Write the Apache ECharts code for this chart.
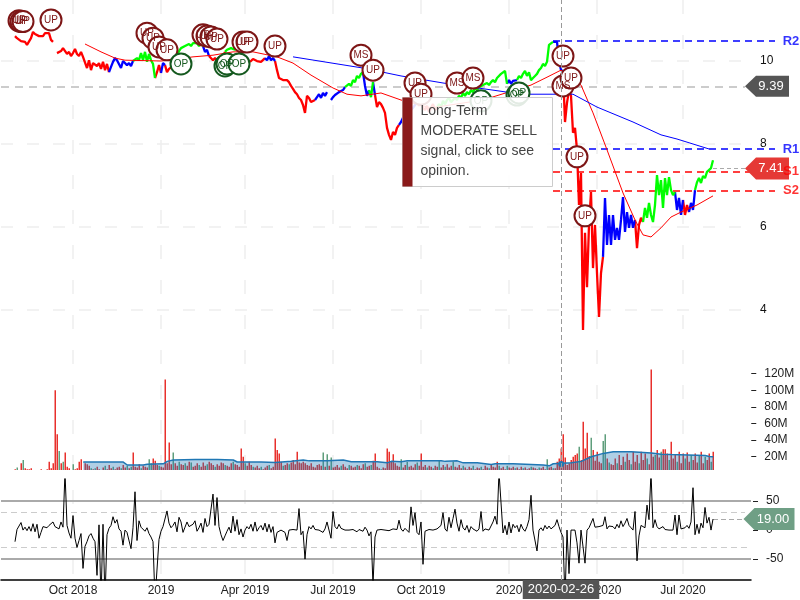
<!DOCTYPE html>
<html>
<head>
<meta charset="utf-8">
<title>Chart</title>
<script src="https://cdn.jsdelivr.net/npm/echarts@6/dist/echarts.min.js"></script>
<style>
  html, body { margin: 0; padding: 0; background: #fff; }
  #chart { width: 800px; height: 600px; }
</style>
</head>
<body>
<div id="chart"></div>
<script>
// every slot on the time axis is about two calendar days, series start at slot 7
const firstSlot = 7
const tickSlots = [36, 80, 122, 166, 210, 254, 298, 341]
const tickLabels = ['Oct 2018', '2019', 'Apr 2019', 'Jul 2019', 'Oct 2019', '2020', 'Apr 2020', 'Jul 2020']
const crossSlot = 280
const crossDate = '2020-02-26'

const prices = [
  10.60, 10.55, 10.55, 10.48, 10.50, 10.46, 10.39, 10.43, 10.55, 10.70,
  10.65, 10.67, 10.60, 10.63, 10.60, 10.67, 10.65, 10.67, 10.51, 10.46,
  null, 10.19, 10.22, 10.24, 10.31, 10.27, 10.17, 10.22, 10.12, 10.19, 10.29,
  10.17, 10.12, 10.22, 10.10, 10.10, 9.83, 10.02, 9.78, 9.95, 9.98,
  9.88, 9.95, 9.81, 9.98, 9.78, 9.93, 9.73, 9.86, 9.98, 10.07,
  10.02, 9.98, 9.83, 10.00, 9.98, 9.90, 9.95, 9.88, 10.00, 10.02,
  10.07, 10.02, 10.19, 10.02, 10.22, 9.98, 10.17, 10.02, 9.93, 9.59,
  9.73, 9.90, 9.71, 9.95, 9.90, 9.73, 9.81, 9.78, 9.88, 10.02,
  10.12, 10.24, 10.31, 10.27, 10.36, 10.34, 10.41, 10.36, 10.43, 10.39,
  10.43, 10.36, 10.41, 10.36, 10.22, 10.27, 10.12, 10.10, 10.02, 10.07,
  10.02, 10.10, 10.02, 10.12, 10.22, 10.27, 10.24, 10.31, 10.34, 10.27,
  10.36, 10.22, 10.12, 10.02, 10.07, 9.98, 10.02, 10.00, 10.05, 10.02,
  10.00, 10.02, 9.98, 10.02, 10.07, 10.02, 10.12, 10.02, 10.07, 10.00,
  9.78, 9.59, 9.61, 9.54, 9.57, 9.54, 9.49, 9.40, 9.33, 9.25,
  9.20, 9.11, 9.06, 8.94, 8.75, 9.16, 9.11, 9.01, 8.99, 9.06,
  9.13, 9.20, 9.11, 9.23, 9.16, 9.25, null, 9.06, 9.13, 9.18,
  9.16, 9.25, 9.23, 9.30, 9.37, 9.35, 9.45, 9.40, 9.54, 9.49,
  9.64, 9.59, 9.69, 9.73, 9.40, 9.16, 9.30, 9.13, 9.49, 9.18,
  8.89, 9.01, 8.96, 8.87, 8.75, 8.39, 8.22, 8.10, 8.29, 8.22,
  8.39, 8.46, 8.53, 8.63, 8.51, 8.70, 8.67, 8.82, 8.87, 8.94,
  9.01, 8.92, 9.06, 8.87, 8.82, 8.92, 8.77, 8.87, 8.96, 8.82,
  8.87, 8.96, 8.89, 9.04, 8.96, 9.06, 9.11, 9.01, 9.06, 9.11,
  9.06, 9.16, 9.11, 9.23, 9.16, 9.25, 9.20, 9.30, 9.25, 9.35,
  9.30, 9.37, 9.35, 9.42, 9.40, 9.47, 9.42, 9.49, 9.54, 9.49,
  9.59, 9.57, 9.69, 9.66, 9.76, 9.45, 9.54, 9.45, 9.52, 9.54,
  9.54, 9.64, 9.59, 9.69, 9.76, 9.64, 9.73, 9.54, 9.59, 9.64,
  9.69, 9.78, 9.83, 9.93, 9.88, 9.98, 10.39, 10.36, 10.46, 10.43,
  10.46, 10.02, 9.78, 9.76, 8.53, 8.99, 9.30, 9.16, 8.27, 8.39,
  7.86, 6.53, 7.30, 3.52, 5.86, 4.55, 6.05, 6.84, 5.01, 6.05,
  4.89, 3.83, 4.89, 5.28, 6.70, 5.57, 6.29, 5.57, 6.29, 5.69,
  5.98, 5.69, 6.17, 6.72, 5.88, 6.36, 5.98, 6.29, 5.98, 6.17,
  5.49, 6.05, 6.22, 6.12, 6.46, 6.22, 6.58, 6.29, 6.12, 6.53,
  7.25, 6.77, 7.13, 6.46, 7.18, 6.77, 7.20, 6.89, 6.77, 6.84,
  6.41, 6.70, 6.29, 6.65, 6.29, 6.53, 6.36, 6.58, 6.41, 6.89,
  7.08, 7.18, 7.06, 7.23, 7.18, 7.33, 7.37, 7.42, 7.61
]
// [last slot of the run, colour key]
const trendRuns = [
  [53, 'r'], [65, 'b'], [76, 'g'], [79, 'r'], [81, 'b'], [87, 'r'], [100, 'g'], [103, 'b'],
  [111, 'r'], [118, 'g'], [131, 'r'], [136, 'b'], [156, 'r'], [171, 'b'], [180, 'g'], [183, 'b'],
  [185, 'g'], [186, 'b'], [198, 'r'], [207, 'b'], [217, 'r'], [252, 'g'], [257, 'b'], [275, 'g'],
  [280, 'b'], [300, 'r'], [316, 'b'], [320, 'r'], [336, 'g'], [340, 'b'], [343, 'r'], [346, 'b'],
  [356, 'g']
]
const maShort = [
  [42, 10.41], [50, 10.22], [57, 10.07], [62, 10.02], [80, 10.00], [96, 10.10], [106, 10.14],
  [116, 10.22], [126, 10.22], [138, 10.10], [146, 9.95], [155, 9.66], [166, 9.35], [173, 9.20],
  [180, 9.16], [190, 9.23], [200, 9.06], [215, 8.87], [241, 9.06], [265, 9.42], [273, 9.61],
  [280, 9.78], [285, 9.61], [290, 9.42], [296, 8.75], [303, 7.86], [311, 6.82], [317, 6.17],
  [321, 5.81], [325, 5.76], [330, 5.98], [335, 6.24], [340, 6.36], [348, 6.53], [356, 6.75]
]
const maLong = [
  [146, 10.10], [181, 9.83], [200, 9.64], [221, 9.47], [253, 9.25], [265, 9.20], [286, 9.20],
  [298, 8.89], [316, 8.53], [330, 8.22], [338, 8.12], [354, 7.88]
]

const levelNames = ['R2', 'R1', 'S1', 'S2']
const levelValues = [10.48, 7.88, 7.33, 6.87]
const levelColors = ['#0000ff', '#0000ff', '#ff0000', '#ff0000']
const priceTicks = [4, 6, 8, 10]
const crossPrice = 9.39
const lastPrice = 7.41

const upMarks = [
  [9, 10.97], [10, 10.95], [11, 10.95], [25, 10.99], [73, 10.67], [76, 10.55], [79, 10.34], [83, 10.27],
  [101, 10.63], [103, 10.60], [105, 10.58], [108, 10.53], [121, 10.46], [123, 10.46], [137, 10.36],
  [186, 9.78], [207, 9.47], [210, 9.20], [281, 10.12], [285, 9.59], [288, 7.69], [292, 6.27]
]
const msMarks = [[180, 10.14], [228, 9.47], [236, 9.59], [281, 9.40]]
const opMarks = [[90, 9.93], [112, 9.88], [113, 9.93], [119, 9.93], [240, 9.04], [258, 9.18], [259, 9.23]]

// volume in millions
const volumes = [
  5, 7, 4, 12, 16, 6, 5, 5, 6, 4,
  3, 3, 3, 5, 4, 3, 5, 14, 6, 12,
  100, 47, 27, 12, 14, 25, 8, 6, 4, 11,
  5, 6, 14, 17, 4, 12, 11, 9, 6, 5,
  6, 8, 5, 4, 7, 9, 5, 10, 6, 8,
  5, 7, 8, 6, 10, 7, 9, 6, 8, 25,
  8, 7, 11, 6, 9, 8, 7, 17, 12, 18,
  15, 10, 9, 8, 7, 113, 12, 37, 11, 25,
  12, 9, 14, 11, 10, 12, 9, 14, 13, 8,
  9, 12, 10, 8, 13, 9, 11, 14, 12, 10,
  8, 11, 9, 13, 12, 10, 9, 8, 12, 14,
  11, 10, 8, 30, 20, 12, 9, 14, 10, 8,
  7, 9, 6, 8, 5, 7, 9, 10, 6, 8,
  42, 28, 24, 14, 9, 10, 12, 11, 13, 16,
  11, 26, 13, 12, 14, 12, 10, 9, 12, 8,
  7, 10, 11, 9, 25, 8, 23, 9, 19, 7,
  8, 10, 7, 9, 11, 8, 6, 10, 9, 7,
  8, 10, 9, 6, 11, 12, 8, 9, 10, 15,
  24, 8, 6, 5, 7, 6, 30, 26, 14, 23,
  12, 9, 8, 17, 7, 10, 14, 8, 9, 7,
  11, 13, 9, 24, 8, 10, 7, 9, 8, 6,
  9, 8, 16, 7, 10, 8, 11, 7, 9, 14,
  8, 7, 10, 6, 9, 7, 5, 8, 6, 9,
  5, 7, 6, 8, 5, 9, 7, 6, 10, 8,
  7, 14, 9, 6, 8, 5, 9, 7, 6, 8,
  6, 7, 5, 8, 6, 7, 5, 6, 8, 7,
  6, 5, 7, 6, 8, 5, 17, 7, 8, 6,
  6, 14, 18, 30, 47, 19, 10, 12, 16, 20,
  22, 24, 32, 16, 62, 30, 49, 21, 43, 28,
  15, 26, 14, 12, 39, 47, 18, 13, 11, 10,
  18, 12, 22, 10, 20, 14, 24, 16, 11, 26,
  14, 22, 12, 26, 16, 24, 18, 11, 125, 20,
  22, 28, 19, 26, 29, 29, 24, 16, 38, 18,
  22, 14, 26, 12, 24, 18, 25, 14, 22, 16,
  24, 13, 22, 26, 12, 20, 16, 24, 14, 26
]
const greenVolumeSlots = [
  8, 11, 19, 29, 31, 36, 45, 47, 50, 52, 56, 60, 63, 65, 70, 74, 75, 79, 86, 89, 92, 95, 99, 103, 107,
  112, 116, 122, 126, 130, 134, 141, 144, 161, 163, 165, 170, 174, 178, 182, 185, 190, 200, 203, 208,
  213, 216, 219, 222, 226, 231, 236, 240, 244, 249, 253, 257, 261, 265, 269, 273, 276, 289, 295, 301,
  302, 304, 308, 312, 315, 319, 323, 327, 330, 334, 338, 342, 345, 349, 352, 355
]
const volumeAverage = [
  [41, 13.6], [61, 13.6], [63, 10], [71, 10], [73, 11], [81, 11.5], [83, 14.4], [86, 16], [97, 16.5],
  [108, 16.5], [109, 16], [116, 16], [118, 13.6], [130, 13.6], [131, 12.6], [137, 13], [145, 14.4],
  [151, 16], [154, 15], [163, 15], [164, 16], [171, 16], [175, 14], [188, 14], [189, 12.6], [193, 12.6],
  [195, 14.4], [200, 14], [203, 15.2], [220, 15.2], [222, 14.4], [228, 15], [231, 12.6], [238, 12.6],
  [245, 10.6], [247, 11.5], [256, 11.5], [257, 10], [271, 10], [274, 9], [276, 11.5], [285, 12.6],
  [290, 14.4], [295, 20], [301, 24], [306, 26], [315, 26], [316, 25], [325, 24.5], [326, 25], [330, 23],
  [335, 22.6], [336, 21.5], [352, 21.5], [354, 20.3], [356, 20]
]
const volumeTicks = [20, 40, 60, 80, 100, 120]

const oscillator = [
  -20, 1, 2, 13, 0, 5, -1, 6, -2, 11,
  -3, 10, -14, -4, 6, 9, 4, 8, 6, 14,
  6, 7, 2, 14, 5, 100, 8, -5, -14, 25,
  -14, -30, -18, -6, -66, -28, -20, -10, -6, -14,
  -20, -78, 9, -120, 10, -120, -8, 3, 8, 23,
  12, 18, 2, -2, -26, 0, -4, -1, -32, 4,
  66, -18, 16, 5, 6, -2, 4, -6, -12, -20,
  -120, -120, -16, -2, 6, 8, 33, 12, 4, 8,
  14, -3, 22, 14, -4, 5, 14, 6, 4, 10,
  16, -2, 4, 12, -4, 20, 6, 10, 12, 62,
  8, 56, 6, -8, -18, -10, -2, 5, -5, 24,
  -2, 18, -8, 2, -12, 0, 6, 2, 10, -2,
  14, -2, 4, 8, 0, 12, -3, 10, -4, 6,
  -22, -4, -6, 0, -2, -4, -18, 0, 2, 1,
  1, 0, 37, -8, -2, -50, -8, 6, 2, 8,
  1, 4, 0, 2, -4, 2, 14, 13, -14, 32,
  6, 2, 10, 3, 6, 0, 2, 0, -2, 1,
  0, -3, 1, 2, -2, 5, 0, -10, -3, -95,
  -12, 0, 2, 1, 3, 0, 1, -1, 0, 2,
  0, 1, 17, 2, -2, 3, 1, -4, 40, 8,
  30, -4, -8, 14, -59, -2, 0, 1, 1, 0,
  1, 2, 4, 8, 30, 2, -2, 22, 4, 20,
  36, 12, -2, 18, 4, 0, 8, -4, 6, 2,
  4, -2, 2, 32, -2, 2, 3, 0, 0, 14,
  24, 10, 100, 100, -5, 8, -8, 14, -5, 10,
  4, 8, -3, 10, 2, -2, 6, 18, 60, 0,
  -2, -36, 0, 4, -1, 8, 2, 7, 2, 5,
  8, 18, 6, -4, -12, -120, 0, -75, 0, 0,
  0, -22, -57, 0, 2, -57, 0, 4, 2, 20,
  5, 4, 6, 3, 8, 23, 2, 7, 4, 6,
  2, 10, 4, 16, 6, 12, 20, 8, 4, 0,
  32, -53, -10, 8, 6, 4, 43, 18, 100, 4,
  18, 6, 2, 3, 6, 1, 1, 0, 0, 0,
  26, -8, 26, 2, 3, 4, 8, 3, 14, 73,
  -8, 10, -6, 12, 4, 39, 12, 22, 0, 19
]
const oscTicks = [-50, 0, 50]
const lastOsc = 19

const opinionLines = ['Long-Term', 'MODERATE SELL', 'signal, click to see', 'opinion.']

const font = 'Liberation Sans, Arial, sans-serif'
const slots = Array.from({ length: 400 }, (_, i) => String(i))
const shortSlots = slots.slice(0, 376) // the part that stops at the label column
const axisEnd = 375

// split the price line into one series per trend colour, runs share their end point
function trendLine(key) {
  const out = new Array(firstSlot).fill(null).concat(prices.map(() => null))
  let start = firstSlot
  trendRuns.forEach(([end, k]) => {
    if (k === key) {
      for (let i = start; i <= Math.min(end + 1, firstSlot + prices.length - 1); i++) {
        out[i] = prices[i - firstSlot]
      }
    }
    start = end + 1
  })
  return out
}

function lead(values) {
  return new Array(firstSlot).fill(null).concat(values)
}

function hLine(value, style, fromSlot = 0, toSlot = axisEnd) {
  return [
    { coord: [fromSlot, value], lineStyle: style },
    { coord: [toSlot, value] }
  ]
}

function priceLine(key, color) {
  return {
    type: 'line', xAxisIndex: 1, yAxisIndex: 1, data: trendLine(key), z: 3,
    showSymbol: false, silent: true, lineStyle: { color: color, width: 2.3, join: 'bevel' }
  }
}

function maLine(data, color) {
  return {
    type: 'line', xAxisIndex: 1, yAxisIndex: 1, data: data, z: 4,
    showSymbol: false, silent: true, lineStyle: { color: color, width: 1 }
  }
}

function marks(data, text, ring) {
  return {
    type: 'scatter', xAxisIndex: 1, yAxisIndex: 1, data: data, z: 6, silent: true, clip: false,
    symbolSize: 21,
    itemStyle: { color: '#fff', borderColor: ring, borderWidth: 2, opacity: 1 },
    label: { show: true, position: 'inside', formatter: text, color: ring, fontFamily: font, fontSize: 10 }
  }
}

function tagPath(w, h) {
  const tip = 11
  return 'path://M0 ' + h / 2 + 'L' + tip + ' 0L' + w + ' 0L' + w + ' ' + h + 'L' + tip + ' ' + h + 'Z'
}

function tag(slot, value, text, color, w, h) {
  return {
    coord: [slot, value],
    symbol: tagPath(w, h),
    symbolSize: [w, h],
    symbolKeepAspect: false,
    itemStyle: { color: color },
    label: {
      show: true, formatter: text, color: '#fff', fontFamily: font, fontSize: 13,
      position: 'inside', offset: [4, 0]
    }
  }
}

const chart = echarts.init(document.getElementById('chart'), null, { renderer: 'canvas' })

chart.setOption({
  animation: false,
  backgroundColor: '#fff',
  textStyle: { fontFamily: font },
  grid: [
    { left: 1, width: 750, top: 0, height: 580 },    // full height, carries the dates
    { left: 1, width: 798, top: 0, height: 393 },    // price
    { left: 1.25, width: 750, top: 365, height: 105 }, // volume
    { left: 1, width: 798, top: 479, height: 101 }   // oscillator
  ],
  xAxis: [
    {
      type: 'category', gridIndex: 0, data: shortSlots, boundaryGap: false,
      axisLine: { lineStyle: { color: '#000', width: 1.5 } },
      axisTick: { show: false },
      axisLabel: {
        color: '#222', fontFamily: font, fontSize: 12, margin: 5, hideOverlap: false,
        interval: (i) => tickSlots.includes(i),
        formatter: (v, i) => tickLabels[tickSlots.indexOf(i)] || ''
      },
      splitLine: {
        show: true,
        interval: (i) => tickSlots.includes(i),
        lineStyle: { color: '#eeeeee', width: 1.5, type: [14, 21] }
      },
      axisPointer: {
        show: true, status: 'show', value: crossSlot, triggerTooltip: false, snap: false,
        lineStyle: { color: '#999', type: [5, 3], width: 1 },
        label: {
          show: true, formatter: crossDate, backgroundColor: '#555', color: '#fff',
          fontFamily: font, fontSize: 13, padding: [3, 5], margin: 0, borderRadius: 0
        }
      }
    },
    { type: 'category', gridIndex: 1, data: slots, boundaryGap: false, show: false },
    { type: 'category', gridIndex: 2, data: shortSlots, boundaryGap: false, show: false },
    { type: 'category', gridIndex: 3, data: slots, boundaryGap: false, show: false }
  ],
  yAxis: [
    { type: 'value', gridIndex: 0, show: false, min: 0, max: 1, splitLine: { show: false } },
    {
      type: 'value', gridIndex: 1, position: 'right', offset: -46, min: 2, max: 11.47, interval: 2,
      axisLine: { show: false }, axisTick: { show: false }, splitLine: { show: false },
      axisLabel: { customValues: priceTicks, color: '#111', fontFamily: font, fontSize: 12, margin: 7 }
    },
    {
      type: 'value', gridIndex: 2, position: 'right', min: 4, max: 130.5,
      axisLine: { show: false }, splitLine: { show: false },
      axisTick: { show: true, customValues: volumeTicks, length: 5, lineStyle: { color: '#222' } },
      axisLabel: {
        customValues: volumeTicks, formatter: '{value}M', color: '#222',
        fontFamily: font, fontSize: 12, margin: 13
      }
    },
    {
      type: 'value', gridIndex: 3, position: 'right', offset: -46, min: -86, max: 88,
      axisLine: { show: false }, splitLine: { show: false },
      axisTick: { show: true, customValues: oscTicks, length: 5, lineStyle: { color: '#222' } },
      axisLabel: { customValues: oscTicks, color: '#222', fontFamily: font, fontSize: 12, margin: 13 }
    }
  ],
  series: [
    // carrier for the date axis
    { type: 'line', xAxisIndex: 0, yAxisIndex: 0, data: [], silent: true },

    // price grid lines and the levels
    {
      type: 'line', xAxisIndex: 1, yAxisIndex: 1, data: [], z: 2, silent: true,
      markLine: {
        silent: true, symbol: 'none', animation: false, label: { show: false }, z: 2,
        data: priceTicks.map((v) => hLine(v, { color: '#eeeeee', width: 1.5, type: [12, 14] }))
          .concat([hLine(crossPrice, { color: '#cccccc', width: 2, type: [8, 6] }, 0, 372)])
          .concat(levelValues.map((v, i) => hLine(v, { color: levelColors[i], width: 1.7, type: [7, 5] }, 276, 387)))
          .concat([hLine(lastPrice, { color: '#aaaaaa', width: 1, type: [4, 3] }, 356, 372)])
      }
    },

    priceLine('r', '#ff0000'),
    priceLine('b', '#0000ff'),
    priceLine('g', '#00ff00'),
    maLine(maShort, '#ff0000'),
    maLine(maLong, '#0000ff'),

    marks(msMarks, 'MS', '#7d1616'),
    marks(upMarks, 'UP', '#7d1616'),
    marks(opMarks, 'OP', '#15591f'),

    // price tags on the right
    {
      type: 'line', xAxisIndex: 1, yAxisIndex: 1, data: [], z: 9, silent: true,
      markPoint: {
        silent: true, animation: false, z: 9,
        data: [
          tag(383, crossPrice, crossPrice.toFixed(2), '#555555', 44, 21),
          tag(383, lastPrice, lastPrice.toFixed(2), '#e53935', 44, 22)
        ]
      }
    },
    // level names sit above the tags
    {
      type: 'scatter', xAxisIndex: 1, yAxisIndex: 1, z: 10, silent: true,
      data: levelValues.map((v) => [395, v]),
      symbolSize: 1,
      itemStyle: { color: 'rgba(0,0,0,0)' },
      label: {
        show: true, position: 'inside', fontFamily: font, fontSize: 13, fontWeight: 'bold',
        formatter: (p) => '{c' + p.dataIndex + '|' + levelNames[p.dataIndex] + '}',
        rich: {
          c0: { color: levelColors[0], fontWeight: 'bold', fontSize: 13 },
          c1: { color: levelColors[1], fontWeight: 'bold', fontSize: 13 },
          c2: { color: levelColors[2], fontWeight: 'bold', fontSize: 13 },
          c3: { color: levelColors[3], fontWeight: 'bold', fontSize: 13 }
        }
      }
    },

    // volume
    {
      type: 'bar', xAxisIndex: 2, yAxisIndex: 2, barWidth: 1.5, silent: true, z: 2,
      data: lead(volumes).map((v, i) => (v === null ? null : {
        value: v,
        itemStyle: { color: greenVolumeSlots.includes(i) ? '#5f9e7c' : '#e8302c' }
      }))
    },
    {
      type: 'line', xAxisIndex: 2, yAxisIndex: 2, data: volumeAverage, z: 3, silent: true,
      showSymbol: false,
      lineStyle: { color: '#1f77b4', width: 1.5 },
      areaStyle: { color: 'rgba(31,119,180,0.5)', origin: 'start' },
      markPoint: {
        silent: true, animation: false, symbol: 'circle', symbolSize: 6, label: { show: false },
        itemStyle: { color: '#1f77b4' },
        data: [{ coord: [crossSlot, 11.3] }]
      }
    },

    // oscillator
    {
      type: 'line', xAxisIndex: 3, yAxisIndex: 3, data: lead(oscillator), z: 3, silent: true,
      showSymbol: false,
      lineStyle: { color: '#000', width: 1 },
      markLine: {
        silent: true, symbol: 'none', animation: false, label: { show: false }, z: 2,
        data: [
          hLine(50, { color: '#aaaaaa', width: 2, type: 'solid' }),
          hLine(-50, { color: '#aaaaaa', width: 2, type: 'solid' }),
          hLine(30, { color: '#cccccc', width: 1, type: [6, 4] }, 0, 372),
          hLine(-30, { color: '#cccccc', width: 1, type: [6, 4] }),
          hLine(lastOsc, { color: '#aaaaaa', width: 1, type: [5, 3] }, 356, 372)
        ]
      },
      markPoint: {
        silent: true, animation: false, z: 9,
        data: [tag(384, lastOsc, lastOsc.toFixed(2), '#6f9f85', 51, 22)]
      }
    }
  ],
  graphic: [
    // opinion box over the price panel
    {
      type: 'group', left: 402, top: 97, z: 100,
      children: [
        {
          type: 'rect', z: 100, shape: { x: 0, y: 0, width: 150, height: 89 },
          style: { fill: 'rgba(255,255,255,0.88)', stroke: '#cccccc', lineWidth: 1 }
        },
        { type: 'rect', z: 101, shape: { x: 0, y: 0, width: 10, height: 89 }, style: { fill: '#8a1a1a' } },
        {
          type: 'text', z: 101, x: 18, y: 4,
          style: {
            text: opinionLines.join('\n'), fill: '#444', fontFamily: font, fontSize: 14, lineHeight: 20
          }
        }
      ]
    }
  ]
})

window.addEventListener('resize', () => chart.resize())
</script>
</body>
</html>
